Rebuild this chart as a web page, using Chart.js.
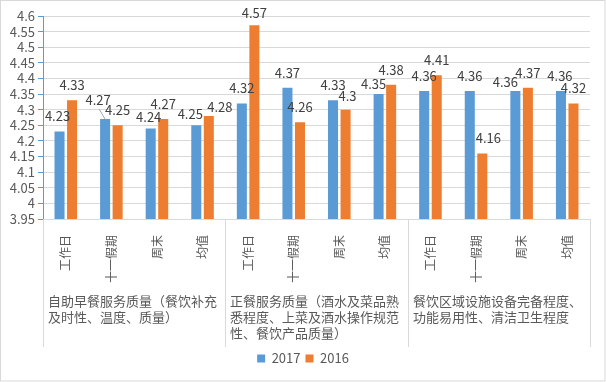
<!DOCTYPE html>
<html><head><meta charset="utf-8">
<script src="https://cdn.jsdelivr.net/npm/chart.js@4/dist/chart.umd.min.js"></script>
<style>html,body{margin:0;padding:0;background:#fff}#wrap{width:606px;height:382px;position:relative}</style>
</head><body><div id="wrap"><canvas id="c" width="606" height="382"></canvas></div>
<script>
const categories = ["工作日","十一假期","周末","均值","工作日","十一假期","周末","均值","工作日","十一假期","周末","均值"];
const groupLabels = [
  ["自助早餐服务质量（餐饮补充","及时性、温度、质量）"],
  ["正餐服务质量（酒水及菜品熟","悉程度、上菜及酒水操作规范","性、餐饮产品质量）"],
  ["餐饮区域设施设备完备程度、","功能易用性、清洁卫生程度"]
];
const seriesNames = ["2017","2016"];
const values2017 = [4.23,4.27,4.24,4.25,4.32,4.37,4.33,4.35,4.36,4.36,4.36,4.36];
const values2016 = [4.33,4.25,4.27,4.28,4.57,4.26,4.3,4.38,4.41,4.16,4.37,4.32];
const yMin = 3.95, yMax = 4.6, yStep = 0.05;

const FONT = '"Noto Sans CJK SC","Noto Sans",sans-serif';
const GRAY = '#595959';
// small label nudges (px) to mimic hand-placed data labels
const labelNudge = [
  [[-2,0],[-7,-4],[-2,4],[-6,4],[0,0],[0,0],[0,0],[-5,5],[0,0],[0,0],[-10,6],[-1,0]],
  [[0,0],[0,0],[0,0],[11,6],[0,3],[0,0],[2,1],[0,0],[0,0],[6,0],[0,0],[0,0]]
];
const leaderLines = [[1],[]];

const extras = {
  id:'extras',
  beforeDraw(chart){
    const ctx = chart.ctx;
    ctx.save();
    ctx.fillStyle='#fff';
    ctx.fillRect(0,0,chart.width,chart.height);
    ctx.strokeStyle='#d9d9d9';ctx.lineWidth=1;
    ctx.strokeRect(0.5,0.5,chart.width-1.5,chart.height-1.5);
    ctx.restore();
  },
  afterDraw(chart){
    const ctx = chart.ctx, xs = chart.scales.x;
    const half = (xs.getPixelForValue(1)-xs.getPixelForValue(0))/2;
    const top = chart.chartArea.bottom, bottom = xs.bottom;
    ctx.save();
    ctx.strokeStyle='#d9d9d9';ctx.lineWidth=1;
    const bounds=[0,4,8,12].map(i=>Math.round((i<12?xs.getPixelForValue(i)-half:xs.getPixelForValue(11)+half))+0.5);
    bounds.forEach(b=>{ctx.beginPath();ctx.moveTo(b,top);ctx.lineTo(b,bottom);ctx.stroke();});
    ctx.fillStyle=GRAY;ctx.font='13px '+FONT;ctx.textAlign='left';ctx.textBaseline='middle';
    groupLabels.forEach((lines,g)=>{
      lines.forEach((ln,k)=>ctx.fillText(ln,bounds[g]+4.5,top+82+k*16));
    });
    // data labels
    ctx.font='13px '+FONT;ctx.textAlign='center';ctx.fillStyle='#404040';
    chart.data.datasets.forEach((ds,di)=>{
      const meta = chart.getDatasetMeta(di);
      meta.data.forEach((bar,i)=>{
        const n = labelNudge[di][i];
        const x = bar.x+n[0], y = bar.y-15+n[1];
        ctx.fillText(String(ds.data[i]),x,y);
        if(leaderLines[di].includes(i)){
          ctx.strokeStyle='#a6a6a6';ctx.beginPath();ctx.moveTo(x+1,y+9);ctx.lineTo(bar.x,bar.y);ctx.stroke();
        }
      });
    });
    ctx.restore();
  }
};

new Chart(document.getElementById('c'),{
  type:'bar',
  data:{labels:categories,datasets:[
    {label:seriesNames[0],data:values2017,backgroundColor:'#5B9BD5',barPercentage:0.8,categoryPercentage:0.55},
    {label:seriesNames[1],data:values2016,backgroundColor:'#ED7D31',barPercentage:0.8,categoryPercentage:0.55}
  ]},
  options:{
    responsive:false,animation:false,
    layout:{padding:{left:0,right:0,top:16,bottom:7}},
    plugins:{
      legend:{position:'bottom',labels:{boxWidth:8,boxHeight:8,padding:5,color:GRAY,font:{family:FONT,size:13}}},
      tooltip:{enabled:false}
    },
    scales:{
      x:{
        grid:{display:false},
        border:{color:'#d9d9d9'},
        ticks:{maxRotation:90,minRotation:90,padding:8,color:GRAY,font:{family:FONT,size:12},autoSkip:false},
        afterFit(s){s.height=128;}
      },
      y:{
        min:yMin,max:yMax,
        grid:{color:'#d9d9d9',tickColor:'#5B9BD5',tickLength:5},
        border:{color:'#5B9BD5'},
        ticks:{stepSize:yStep,autoSkip:false,color:GRAY,font:{family:FONT,size:13},padding:3,
          callback:v=>String(+(+v).toFixed(2))},
        afterFit(s){s.width=43;}
      },
      yR:{
        type:'linear',position:'right',display:true,min:yMin,max:yMax,
        grid:{display:false,drawOnChartArea:false},border:{display:false},
        ticks:{display:false},
        afterFit(s){s.width=16;}
      }
    }
  },
  plugins:[extras]
});
</script></body></html>
